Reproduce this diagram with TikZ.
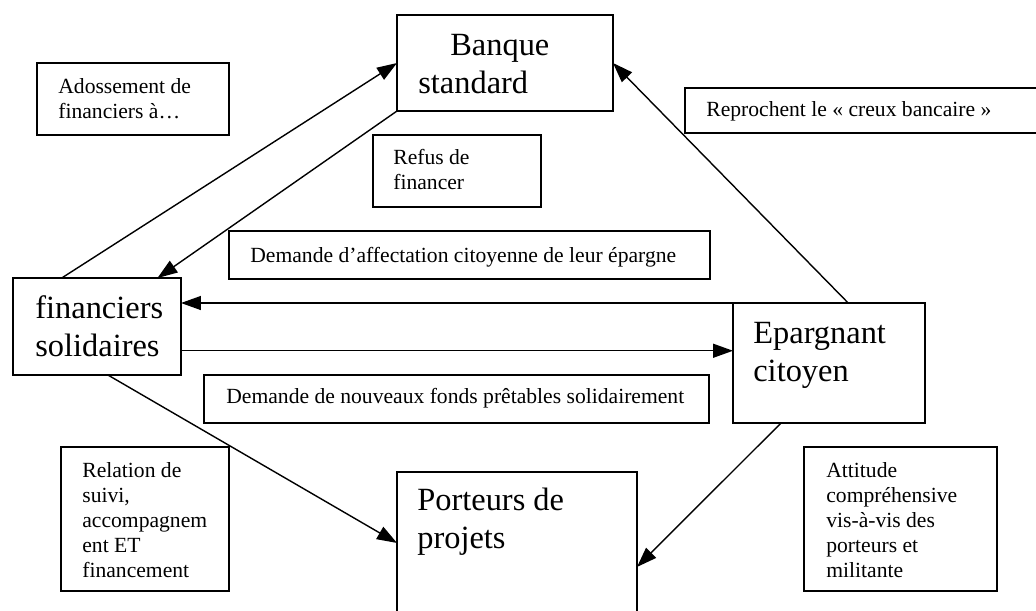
\documentclass[tikz,border=0pt]{standalone}
\usepackage{fontspec}
\setmainfont{Liberation Serif}
\usetikzlibrary{arrows.meta,calc}

\newdimen\pix
\pix=0.02cm
\newcommand\txtsmall{\fontsize{12.3pt}{14.2pt}\selectfont}
\newcommand\txtbig{\fontsize{18.45pt}{21.6pt}\selectfont}

\begin{document}
\begin{tikzpicture}[x=0.02cm, y=-0.02cm]
  \tikzstyle{box}=[draw, line width=1pt, anchor=north west, inner sep=0pt, outer sep=0pt]
  \tikzstyle{txt}=[anchor=base west, align=left, inner sep=0pt, font=\txtsmall]
  \tikzstyle{big}=[font=\txtbig]
  \tikzstyle{arr}=[-{Triangle[length=0.4cm, width=0.28cm]}, line width=0.8pt]

  \clip (0,0) rectangle (1036,610);

  \node[box, minimum width=216\pix, minimum height=96\pix]  (banque) at (397,15)  {};
  \node[box, minimum width=192\pix, minimum height=72\pix]  (ados)   at (37,63)   {};
  \node[box, minimum width=370\pix, minimum height=45\pix]  (repro)  at (685,88)  {};
  \node[box, minimum width=168\pix, minimum height=72\pix]  (refus)  at (373,135) {};
  \node[box, minimum width=481\pix, minimum height=48\pix]  (aff)    at (229,231) {};
  \node[box, minimum width=168\pix, minimum height=97\pix]  (fin)    at (13,278)  {};
  \node[box, minimum width=192\pix, minimum height=120\pix] (epa)    at (733,303) {};
  \node[box, minimum width=505\pix, minimum height=48\pix]  (fonds)  at (204,375) {};
  \node[box, minimum width=168\pix, minimum height=144\pix] (suivi)  at (61,447)  {};
  \node[box, minimum width=240\pix, minimum height=150\pix] (port)   at (397,472) {};
  \node[box, minimum width=193\pix, minimum height=144\pix] (attit)  at (804,447) {};

  \node[txt, big] (banqueT) at ($(banque.north west)+(21,78)$) {\hspace{32\pix}Banque\\standard};
  \node[txt]      (adosT)   at ($(ados.north west)+(21,55)$)   {Adossement de\\financiers à…};
  \node[txt]      (reproT)  at ($(repro.north west)+(21,28)$)  {Reprochent le «~creux bancaire~»};
  \node[txt]      (refusT)  at ($(refus.north west)+(20,54)$)  {Refus de\\financer};
  \node[txt]      (affT)    at ($(aff.north west)+(21,31)$)    {Demande d’affectation citoyenne de leur épargne};
  \node[txt, big] (finT)    at ($(fin.north west)+(22,78)$)    {financiers\\solidaires};
  \node[txt, big] (epaT)    at ($(epa.north west)+(20,78)$)    {Epargnant\\citoyen};
  \node[txt]      (fondsT)  at ($(fonds.north west)+(22,28)$)  {Demande de nouveaux fonds prêtables solidairement};
  \node[txt]      (suiviT)  at ($(suivi.north west)+(21,130)$) {Relation de\\suivi,\\accompagnem\\ent ET\\financement};
  \node[txt, big] (portT)   at ($(port.north west)+(20,76)$)   {Porteurs de\\projets};
  \node[txt]      (attitT)  at ($(attit.north west)+(22,130)$) {Attitude\\compréhensive\\vis-à-vis des\\porteurs et\\militante};

  \draw[arr] ($(fin.north west)!0.29!(fin.north east)$) -- (banque.west);
  \draw[arr] (banque.south west) -- ($(fin.north west)!0.86!(fin.north east)$);
  \draw[arr] ($(epa.north west)!0.6!(epa.north east)$) -- (banque.east);
  \draw[arr] (epa.north west) -- (epa.north west -| fin.east);
  \draw[arr] ($(fin.south east)!0.25!(fin.north east)$) coordinate (f1) -- (f1 -| epa.west);
  \draw[arr] ($(fin.south west)!0.565!(fin.south east)$) -- ($(port.north west)!0.473!(port.south west)$);
  \draw[arr] ($(epa.south west)!0.25!(epa.south east)$) -- ($(port.north east)!0.633!(port.south east)$);
\end{tikzpicture}
\end{document}
